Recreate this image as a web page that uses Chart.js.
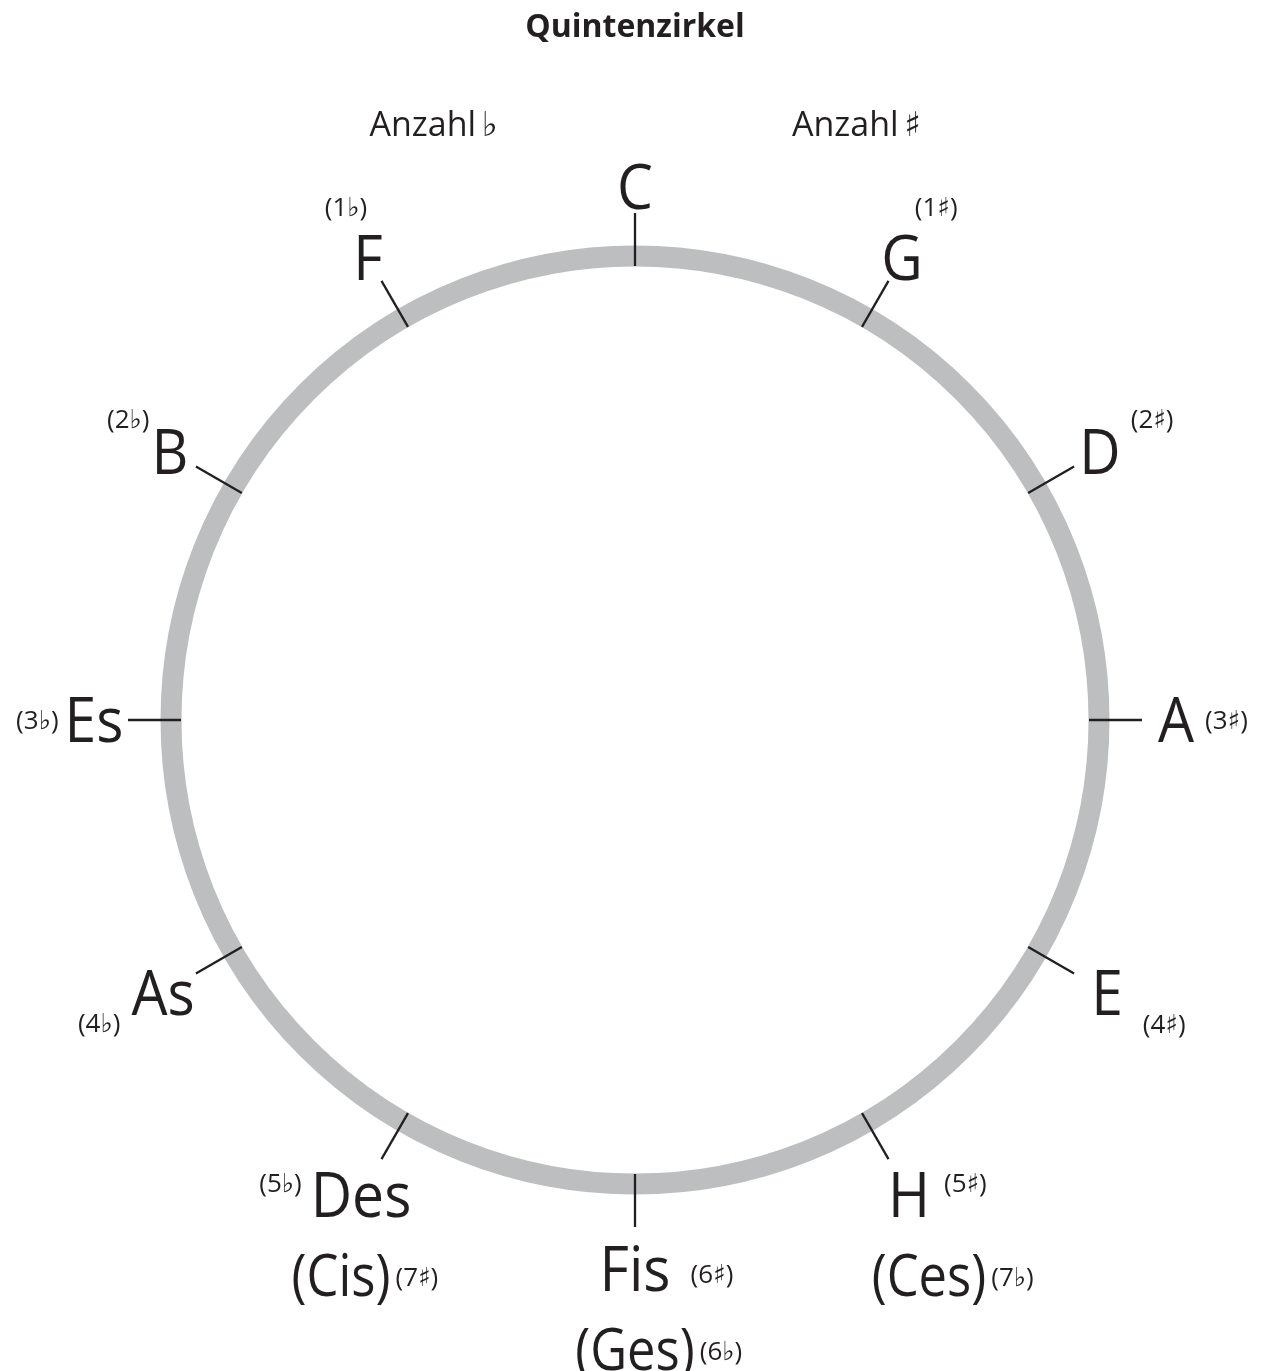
<!DOCTYPE html>
<html><head><meta charset="utf-8">
<script src="https://cdn.jsdelivr.net/npm/chart.js@4"></script>
<style>html,body{margin:0;padding:0;background:#fff}canvas{display:block}</style>
</head><body>
<canvas id="c" width="1266" height="1371"></canvas>
<script>
// ---- data ----
const titleText = 'Quintenzirkel';
const keys = ['C','G','D','A','E','H','Fis','Des','As','Es','B','F'];
const keyAccidentals = ['', '(1♯)','(2♯)','(3♯)','(4♯)','(5♯)','(6♯)','(5♭)','(4♭)','(3♭)','(2♭)','(1♭)'];
const enharmonicKeys = ['', '', '', '', '', '(Ces)','(Ges)','(Cis)','', '', '', ''];
const enharmonicAccidentals = ['', '', '', '', '', '(7♭)','(6♭)','(7♯)','', '', '', ''];
const ringValues = [1,1,1,1,1,1,1,1,1,1,1,1];
const headerLabels = ['Anzahl\u2009♭', 'Anzahl\u2009♯'];

// ---- style / layout ----
const INK = '#231f20';
const RING = '#bcbec0';
const FONT = '"Open Sans", "DejaVu Sans", sans-serif';
const countGap = [0, -8, 10, 11, 20, 14, 20, 9, 11, 6, 2, -14];
const countDy  = [0, -51, -33, 0, 31, -12, 5, -12, 30, 0, -33, -51];

function drawText(ctx, text, x, capCenterY, size, weight, align, sx) {
  ctx.font = `${weight} ${size}px ${FONT}`;
  const w = ctx.measureText(text).width * sx;
  const left = align === 'center' ? x - w / 2 : (align === 'left' ? x : x - w);
  ctx.save();
  ctx.translate(left, capCenterY + 0.357 * size);
  ctx.scale(sx, 1);
  ctx.textAlign = 'left';
  ctx.textBaseline = 'alphabetic';
  ctx.fillStyle = INK;
  ctx.fillText(text, 0, 0);
  ctx.restore();
  return { left, right: left + w };
}

const circlePlugin = {
  id: 'circleLabels',
  afterDraw(chart) {
    const s = chart.scales.r;
    const ctx = chart.ctx;
    const r = s.drawingArea;
    ctx.save();
    // tick marks across the ring
    ctx.strokeStyle = INK;
    ctx.lineWidth = 2.3;
    keys.forEach((k, i) => {
      const a = s.getPointPosition(i, r - 10);
      const b = s.getPointPosition(i, r + 43);
      ctx.beginPath(); ctx.moveTo(a.x, a.y); ctx.lineTo(b.x, b.y); ctx.stroke();
    });
    // key labels
    keys.forEach((k, i) => {
      const th = s.getIndexAngle(i);
      const d = r + 77 - 8 * Math.cos(th);
      const p = s.getPointPosition(i, d);
      const box = drawText(ctx, k, p.x, p.y, 62, 'normal', 'center', 0.92);
      const acc = keyAccidentals[i];
      if (acc) {
        const right = Math.sin(th) > -0.01;
        if (right) drawText(ctx, acc, box.right + countGap[i], p.y + countDy[i], 26, 'normal', 'left', 1);
        else drawText(ctx, acc, box.left - countGap[i], p.y + countDy[i], 26, 'normal', 'right', 1);
      }
      if (enharmonicKeys[i]) {
        const ex = p.x + 40 * Math.sin(th);
        const ey = p.y + 80;
        const b2 = drawText(ctx, enharmonicKeys[i], ex, ey, 59, 'normal', 'center', 0.86);
        drawText(ctx, enharmonicAccidentals[i], b2.right + 5, ey + 2, 26, 'normal', 'left', 1);
      }
    });
    // header labels
    drawText(ctx, headerLabels[0], s.xCenter - 0.434 * r, s.yCenter - 1.284 * r, 34, 'normal', 'center', 1);
    drawText(ctx, headerLabels[1], s.xCenter + 0.477 * r, s.yCenter - 1.284 * r, 34, 'normal', 'center', 1);
    ctx.restore();
  }
};

new Chart(document.getElementById('c'), {
  type: 'radar',
  data: {
    labels: keys,
    datasets: [{ data: ringValues, borderWidth: 0, pointRadius: 0, backgroundColor: 'transparent', borderColor: 'transparent' }]
  },
  options: {
    responsive: false,
    animation: false,
    devicePixelRatio: 1,
    layout: { padding: { left: 170, right: 166, top: 0, bottom: 186 } },
    plugins: {
      legend: { display: false },
      tooltip: { enabled: false },
      title: {
        display: true, text: titleText, color: INK,
        font: { family: FONT, size: 32, weight: 'bold', lineHeight: 1.2 },
        padding: { top: 9, bottom: 208 }
      }
    },
    scales: {
      r: {
        min: 0, max: 1,
        ticks: { display: false, stepSize: 1 },
        grid: { circular: true, color: RING, lineWidth: 21 },
        angleLines: { display: false },
        pointLabels: { display: false }
      }
    }
  },
  plugins: [circlePlugin]
});
</script>
</body></html>
